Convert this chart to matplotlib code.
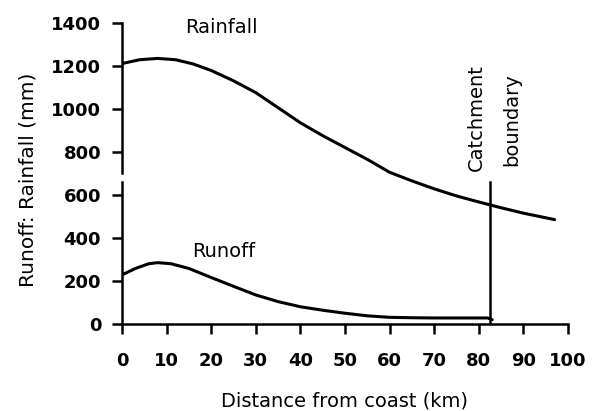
import matplotlib.pyplot as plt

# values
rain_km = [0, 4, 8, 12, 16, 20, 25, 30, 35, 40, 45, 50, 55, 60, 65, 70, 75, 80, 85, 90, 97]
rainfall = [1210, 1228, 1234, 1228, 1208, 1178, 1130, 1075, 1005, 935, 875, 820, 765, 705,
            665, 628, 595, 567, 540, 515, 485]

runoff_km = [0, 3, 6, 8, 11, 15, 20, 25, 30, 35, 40, 45, 50, 55, 60, 65, 70, 75, 82, 83]
runoff = [228, 258, 280, 285, 280, 258, 216, 175, 135, 104, 80, 64, 50, 38, 31, 29, 28, 28, 28, 20]

boundary_km = 82.6
boundary_top = 660

x_ticks = list(range(0, 101, 10))
y_ticks = list(range(0, 1401, 200))

plt.rcParams['font.family'] = 'DejaVu Sans'

fig = plt.figure(figsize=(5.95, 4.11), dpi=100)
ax = fig.add_axes([0.205, 0.2117, 0.7496, 0.7331])

ax.plot(rain_km, rainfall, color='black', lw=2.2, solid_capstyle='round')
ax.plot(runoff_km, runoff, color='black', lw=2.2, solid_capstyle='round')
ax.plot([boundary_km, boundary_km], [0, boundary_top], color='black', lw=1.8)

ax.set_xlim(0, 100)
ax.set_ylim(0, 1400)
ax.set_xticks(x_ticks)
ax.set_yticks(y_ticks)

for s in ['top', 'right', 'left']:
    ax.spines[s].set_visible(False)
ax.spines['bottom'].set_linewidth(1.8)

# broken y axis
ax.plot([0, 0], [0, 660], color='black', lw=1.8, clip_on=False)
ax.plot([0, 0], [702, 1400], color='black', lw=1.8, clip_on=False)

ax.tick_params(axis='x', direction='out', length=7, width=1.8, pad=13, labelsize=13)
ax.tick_params(axis='y', direction='out', length=7, width=1.8, pad=8, labelsize=13)
for lab in ax.get_xticklabels() + ax.get_yticklabels():
    lab.set_fontweight('bold')

ax.set_xlabel('Distance from coast (km)', fontsize=14, labelpad=16)
ax.set_ylabel('Runoff: Rainfall (mm)', fontsize=14.5)
ax.yaxis.set_label_coords(-0.19, 0.48)

ax.text(22.2, 1378, 'Rainfall', fontsize=14, ha='center', va='center')
ax.text(22.9, 339, 'Runoff', fontsize=14, ha='center', va='center')
ax.text(79.5, 960, 'Catchment', fontsize=14, ha='center', va='center', rotation=90)
ax.text(87.3, 950, 'boundary', fontsize=14, ha='center', va='center', rotation=90)

fig.savefig('out.png', dpi=100)
